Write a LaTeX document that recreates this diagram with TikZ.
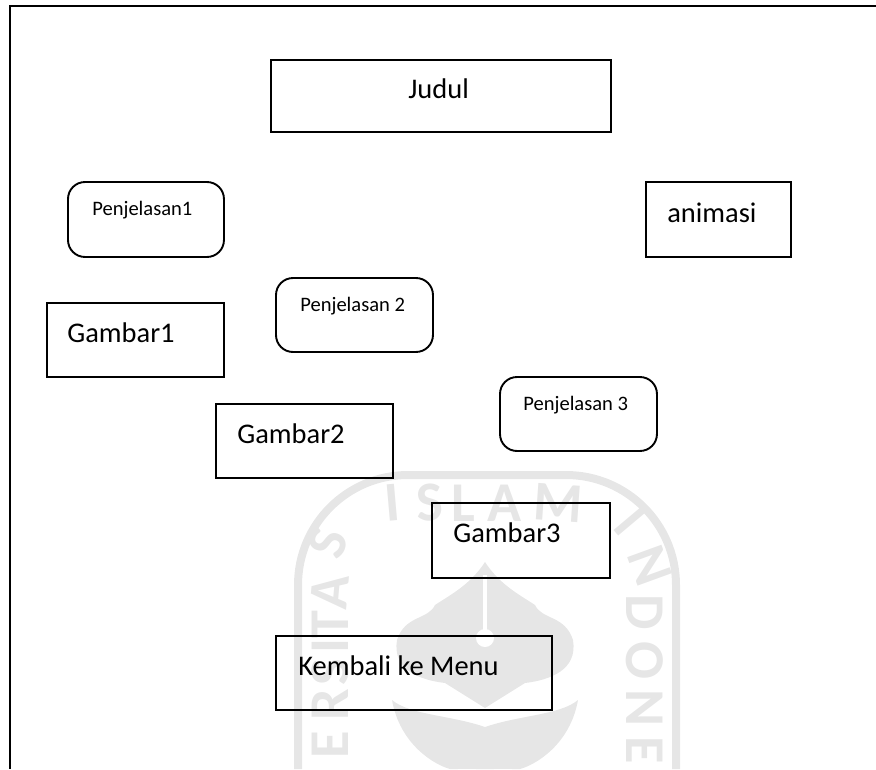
\documentclass[tikz,border=0pt]{standalone}
\usepackage{fontspec}
\setmainfont{Carlito}
\usetikzlibrary{positioning}
\definecolor{wmark}{HTML}{E6E6E6}
\tikzset{
  rectbox/.style={draw, line width=0.38mm, anchor=north west, inner sep=0pt, outer sep=0pt},
  roundbox/.style={rectbox, rounded corners=3.4mm},
  bigtext/.style={anchor=base west, inner sep=0pt, font=\fontsize{16.2}{18}\selectfont},
  smalltext/.style={anchor=base west, inner sep=0pt, font=\fontsize{11.7}{14}\selectfont},
  wmtext/.style={text=wmark, inner sep=0pt, font=\fontsize{32}{34}\selectfont\bfseries}
}
\begin{document}
\begin{tikzpicture}[x=0.02cm, y=-0.02cm]
\useasboundingbox (0,0) rectangle (876,769);

% watermark behind everything
\draw [wmark, line width=1.6mm, rounded corners=2.2cm]
(298,769) -- (298,475) -- (676,475) -- (676,769);
\foreach \ch/\px/\py/\rot in {I/392/503/5, S/430/503/3, L/463/503/0, A/505/503/0, M/558/503/-4,
    I/630/522/-50, N/650/566/-70, D/645/612/-90, O/645/660/-90, N/645/708/-90, E/645/750/-90,
    S/328/543/70, A/330/592/85, T/330/625/90, I/330/646/90, S/330/672/90, R/330/705/90, E/330/745/90}
  \node [wmtext, rotate=\rot] (wm\px\py) at (\px,\py) {\ch};
\fill [wmark]
(485,562) .. controls (470,585) and (450,595) .. (435,605) .. controls (428,620) and (405,615) .. (397,640)
.. controls (392,670) and (420,680) .. (445,683) -- (485,708) -- (525,683)
.. controls (550,680) and (578,670) .. (573,640) .. controls (565,615) and (542,620) .. (535,605)
.. controls (520,595) and (500,585) .. (485,562);
\fill [wmark]
(392,700) .. controls (410,715) and (450,715) .. (485,727) .. controls (520,715) and (560,715) .. (578,700)
.. controls (570,745) and (535,765) .. (520,769) -- (450,769) .. controls (435,765) and (400,745) .. (392,700);
\fill [white] (483,575) rectangle (487,630);
\fill [white] (485,638) circle (9);
\fill [white] (458,769) arc (180:0:9) -- cycle;
\fill [white] (494,769) arc (180:0:9) -- cycle;

% page frame, open on the right and at the bottom
\coordinate (topright) at (876,6);
\coordinate (topleft) at (10,6);
\coordinate (botleft) at (10,769);
\draw [line width=0.4mm] (topright) -- (topleft) -- (botleft);

\node [rectbox, minimum width=6.8cm, minimum height=1.44cm] (judul) at (271,60) {};
\node [bigtext] (judultxt) at (408,98) {Judul};

\node [roundbox, minimum width=3.12cm, minimum height=1.5cm] (penjelasan1) at (68,182) {};
\node [smalltext] (penjelasan1txt) at (92,215) {Penjelasan1};

\node [rectbox, minimum width=2.9cm, minimum height=1.5cm] (animasi) at (646,182) {};
\node [bigtext] (animasitxt) at (667,222) {animasi};

\node [rectbox, minimum width=3.54cm, minimum height=1.48cm] (gambar1) at (47,303) {};
\node [bigtext] (gambar1txt) at (67,342) {Gambar1};

\node [roundbox, minimum width=3.14cm, minimum height=1.48cm] (penjelasan2) at (276,278) {};
\node [smalltext] (penjelasan2txt) at (300,311) {Penjelasan 2};

\node [rectbox, minimum width=3.54cm, minimum height=1.48cm] (gambar2) at (216,404) {};
\node [bigtext] (gambar2txt) at (237,443) {Gambar2};

\node [roundbox, minimum width=3.14cm, minimum height=1.48cm] (penjelasan3) at (500,377) {};
\node [smalltext] (penjelasan3txt) at (523,410) {Penjelasan 3};

\node [rectbox, minimum width=3.56cm, minimum height=1.5cm] (gambar3) at (432,503) {};
\node [bigtext] (gambar3txt) at (453,542) {Gambar3};

\node [rectbox, minimum width=5.52cm, minimum height=1.48cm] (kembali) at (276,636) {};
\node [bigtext] (kembalitxt) at (298,675) {Kembali ke Menu};
\end{tikzpicture}
\end{document}
